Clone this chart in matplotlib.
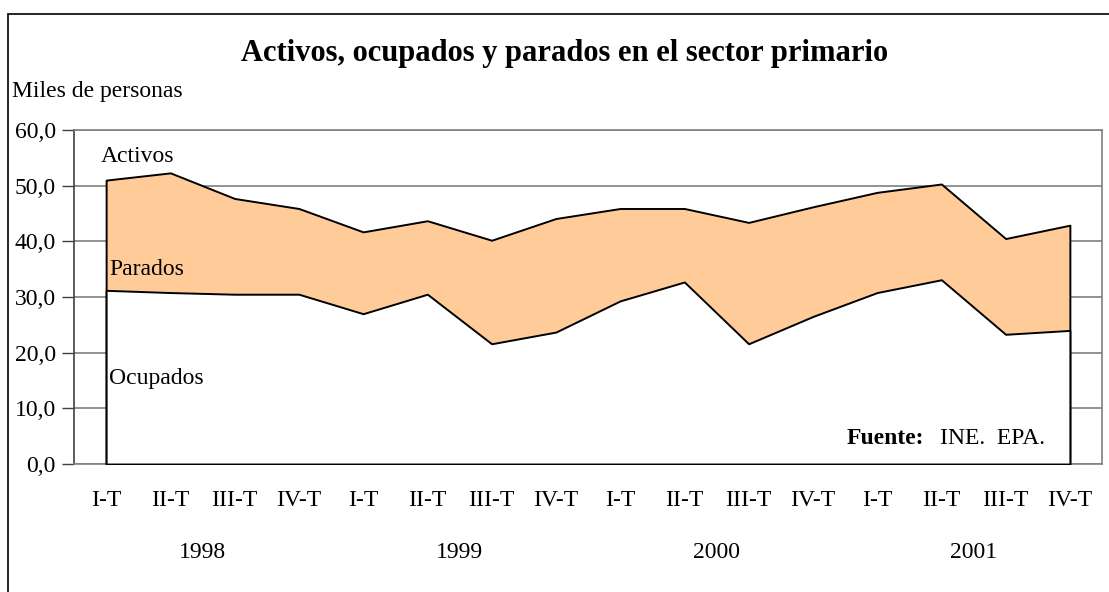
import matplotlib
matplotlib.use("Agg")
import matplotlib.pyplot as plt
import matplotlib.transforms as mtransforms
from matplotlib.patches import Rectangle
import numpy as np

quarters = ["I-T", "II-T", "III-T", "IV-T"] * 4
years = ["1998", "1999", "2000", "2001"]
activos = [51.0, 52.3, 47.7, 45.9, 41.7, 43.7, 40.2, 44.1,
           45.9, 45.9, 43.4, 46.2, 48.8, 50.3, 40.5, 42.9]
ocupados = [31.2, 30.8, 30.5, 30.5, 27.0, 30.5, 21.6, 23.7,
            29.3, 32.7, 21.6, 26.5, 30.8, 33.1, 23.3, 24.0]
yticks = [0, 10, 20, 30, 40, 50, 60]

plt.rcParams['font.family'] = ['Liberation Serif', 'DejaVu Serif']

W, H = 1109, 592
FS = 17
fig = plt.figure(figsize=(W / 100, H / 100), dpi=100)

# outer chart border (extends beyond image at right/bottom)
fig.patches.append(Rectangle((8 / W, -0.1), 1.2, (H - 14) / H + 0.1,
                             transform=fig.transFigure, fill=False,
                             edgecolor='black', linewidth=1.2))

ax = fig.add_axes([74 / W, (H - 464) / H, (1102 - 74) / W, (464 - 130) / H])
x = np.arange(len(activos))

ax.fill_between(x, 0, activos, facecolor='#FFCC99', edgecolor='black',
                linewidth=1.4, zorder=3)
ax.fill_between(x, 0, ocupados, facecolor='white', edgecolor='black',
                linewidth=1.4, zorder=4)

ax.set_xlim(-0.5, len(activos) - 0.5)
ax.set_ylim(0, 60)
ax.set_yticks(yticks)
ax.set_yticklabels([f"{v:.1f}".replace('.', ',') for v in yticks], fontsize=FS)
ax.yaxis.grid(True, color='#808080', linewidth=1.2, zorder=1)
ax.set_axisbelow(True)
ax.tick_params(axis='y', length=9, width=1, color='#404040', pad=4)

ax.set_xticks(x)
ax.set_xticklabels(quarters, fontsize=FS)
ax.tick_params(axis='x', length=0, pad=26)
for lbl in ax.get_xticklabels():
    lbl.set_verticalalignment('center')

for s in ['left', 'right', 'bottom', 'top']:
    ax.spines[s].set_color('#808080')
    ax.spines[s].set_linewidth(1.2)
ax.spines['left'].set_color('#404040')

trans = mtransforms.blended_transform_factory(ax.transData, fig.transFigure)
for i, yr in enumerate(years):
    ax.text(4 * i + 1.5, (H - 553) / H, yr, transform=trans, ha='center',
            va='center', fontsize=FS)

fig.text(565 / W, (H - 53) / H, "Activos, ocupados y parados en el sector primario",
         ha='center', va='center', fontsize=22, fontweight='bold')
fig.text(12 / W, (H - 91) / H, "Miles de personas", ha='left', va='center',
         fontsize=FS)

ax.text(-0.09, 55.2, "Activos", ha='left', va='center', fontsize=FS, zorder=6)
ax.text(0.05, 35.0, "Parados", ha='left', va='center', fontsize=FS, zorder=6)
ax.text(0.05, 15.3, "Ocupados", ha='left', va='center', fontsize=FS, zorder=6)

fig.text(847 / W, (H - 438) / H, "Fuente:", ha='left', va='center',
         fontsize=FS, fontweight='bold', zorder=6)
fig.text(940 / W, (H - 438) / H, "INE.  EPA.", ha='left', va='center',
         fontsize=FS, zorder=6)

fig.savefig("out.png", dpi=100)
